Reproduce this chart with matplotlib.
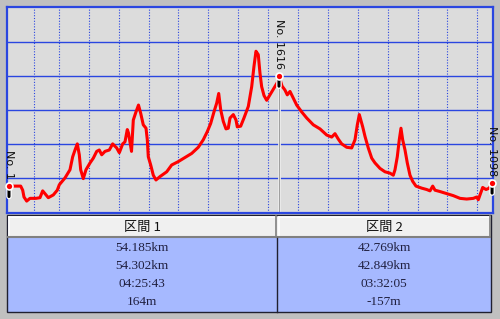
import numpy as np
import matplotlib.pyplot as plt
import matplotlib.patheffects as pe
from matplotlib.patches import Rectangle

# profile: distance (km) / elevation (m)
dist_km = [0.0, 0.86, 2.35, 2.75, 3.01, 3.55, 4.21, 5.42, 6.22, 6.76, 7.57, 7.89, 8.89, 9.69,
           10.10, 11.24, 12.24, 12.78, 13.25, 13.71, 14.11, 14.39, 14.91, 15.45, 16.26, 16.92,
           17.60, 18.12, 18.61, 19.27, 20.13, 20.81, 21.62, 22.14, 22.82, 23.28, 23.74, 23.98,
           24.28, 24.59, 24.95, 25.49, 25.99, 26.43, 26.95, 27.50, 27.76, 27.96, 28.44, 28.96,
           29.50, 30.31, 31.65, 32.65, 33.98, 35.32, 36.67, 37.99, 38.99, 39.80, 40.48, 41.14,
           41.69, 42.09, 42.49, 43.01, 43.55, 44.01, 44.36, 45.02, 45.56, 45.82, 46.50, 47.16,
           48.03, 48.71, 49.17, 49.57, 50.03, 50.37, 50.71, 51.18, 51.72, 52.38, 53.05, 53.85,
           54.185, 54.79, 55.39, 55.85, 56.40, 56.94, 57.74, 58.74, 59.75, 61.07, 62.42, 63.76,
           64.77, 65.43, 66.09, 66.77, 67.78, 68.78, 69.44, 69.91, 70.31, 70.99, 71.45, 72.11,
           72.80, 73.46, 74.46, 75.46, 76.47, 77.13, 77.47, 77.93, 78.33, 78.67, 79.01, 79.48,
           79.94, 80.48, 81.02, 81.68, 82.83, 83.83, 84.50, 85.04, 85.50, 86.50, 87.85, 89.17,
           90.52, 91.86, 93.19, 93.87, 94.19, 94.53, 95.07, 95.74, 96.40, 96.954]
elev_m = [38, 38, 38, 32, 22, 16, 20, 20, 21, 31, 24, 21, 25, 32,
          40, 50, 62, 81, 91, 100, 84, 62, 49, 62, 72, 79,
          89, 91, 84, 89, 91, 100, 94, 87, 100, 103, 121, 116,
          103, 89, 135, 147, 157, 145, 128, 123, 106, 81, 69, 54,
          47, 52, 59, 69, 74, 80, 86, 95, 106, 118, 130, 147,
          160, 174, 150, 133, 122, 123, 138, 143, 135, 125, 126, 138,
          155, 184, 214, 236, 231, 204, 184, 171, 164, 172, 180, 190,
          200, 185, 179, 172, 177, 169, 157, 147, 138, 128, 122, 113,
          110, 115, 107, 100, 95, 94, 106, 128, 143, 125, 111, 94,
          79, 72, 64, 59, 57, 54, 62, 81, 106, 123, 106, 91,
          72, 54, 45, 38, 35, 33, 31, 38, 32, 30, 27, 24,
          20, 19, 20, 22, 18, 25, 36, 33, 35, 43]

pin_labels = ['No. 1', 'No. 1616', 'No. 1098']
pin_km = [0.0, 54.185, 96.954]
pin_m = [38, 200, 43]

grid_km = [5, 10, 16, 22, 28, 34, 40, 46, 52, 58, 64, 70, 76, 82, 88, 94]
grid_m = [50, 100, 150, 200, 250]

sections = ['区間 1', '区間 2']
horiz_dist = ['54.185km', '42.769km']
slope_dist = ['54.302km', '42.849km']
times = ['04:25:43', '03:32:05']
elev_diff = ['164m', '-157m']

W, H = 500, 319
fig = plt.figure(figsize=(W / 100, H / 100), dpi=100, facecolor='#c0c0c0')

# background / table layer in pixel coords
bg = fig.add_axes([0, 0, 1, 1])
bg.set_xlim(0, W)
bg.set_ylim(H, 0)
bg.axis('off')

# white bevel top-left of plot
bg.add_patch(Rectangle((5.5, 5.5), 486, 206, facecolor='white', edgecolor='none'))

# table
tx0, tx1, tmid = 7, 491, 277
ty0, thead, ty1 = 215, 238, 312
bg.add_patch(Rectangle((tx0, thead), tx1 - tx0, ty1 - thead, facecolor='#a6b9ff', edgecolor='none'))
for a, b in [(tx0, tmid), (tmid, tx1)]:
    bg.add_patch(Rectangle((a, ty0), b - a, thead - ty0, facecolor='#f0f0f0', edgecolor='none'))
    bg.plot([a + 1.5, b - 1.5], [ty0 + 1.5, ty0 + 1.5], color='white', lw=1.2)
    bg.plot([a + 1.5, a + 1.5], [ty0 + 1.5, thead - 1], color='white', lw=1.2)
    bg.plot([a + 1, b - 1], [thead - 1, thead - 1], color='#808080', lw=1.5)
    bg.plot([b - 1.2, b - 1.2], [ty0 + 1, thead - 1], color='#808080', lw=1.2)
bg.plot([tmid, tmid], [thead, ty1], color='#202030', lw=1)
bg.add_patch(Rectangle((tx0, ty0), tx1 - tx0, ty1 - ty0, facecolor='none', edgecolor='#202030', lw=1))

cols = [(tx0 + tmid) / 2, (tmid + tx1) / 2]
rows_y = [248, 266, 284, 302]
for i, cx in enumerate(cols):
    bg.text(cx, (ty0 + thead) / 2 + 0.5, sections[i], ha='center', va='center', fontsize=9.5,
            family=['Noto Sans CJK JP', 'DejaVu Sans'], color='#101010')
    for ry, val in zip(rows_y, [horiz_dist[i], slope_dist[i], times[i], elev_diff[i]]):
        bg.text(cx, ry, val, ha='center', va='center', fontsize=9.5,
                family='Liberation Serif', color='#202040')

# plot
ax = fig.add_axes([7 / W, (H - 213) / H, 486 / W, 206 / H])
ax.set_facecolor('#dcdcdc')
ax.set_xlim(-0.40, 97.14)
ax.set_ylim(-1.5, 301)
ax.set_xticks([])
ax.set_yticks([])
for s in ax.spines.values():
    s.set_color('#2a46e0')
    s.set_linewidth(1.6)

for gm in grid_m:
    ax.axhline(gm, color='#2a46e0', lw=1.0, zorder=1)
for gk in grid_km:
    ax.axvline(gk, color='#2a46e0', lw=0.8, ls=(0, (1, 1.5)), zorder=1)

# section divider
ax.plot([pin_km[1], pin_km[1]], [-1.5, pin_m[1]], color='white', lw=2.0, zorder=2)
ax.plot([pin_km[1], pin_km[1]], [-1.5, pin_m[1]], color='#a0a0a0', lw=1.0, zorder=2)

ax.plot(dist_km, elev_m, color='#ff0000', lw=2.2, zorder=3)

for lab, x, y in zip(pin_labels, pin_km, pin_m):
    ax.annotate('', xy=(x, y), xytext=(0, -7.5), textcoords='offset points',
                arrowprops=dict(arrowstyle='-', color='black', lw=2.2, shrinkA=0, shrinkB=0,
                                path_effects=[pe.withStroke(linewidth=4, foreground='white')]),
                zorder=6, annotation_clip=False)
    ax.plot([x], [y], marker='o', ms=5, mfc='#ff0000', mec='white', mew=1.2, ls='none',
            zorder=7, clip_on=False)
    ax.annotate(lab, xy=(x, y), xytext=(0, 5), textcoords='offset points', rotation=-90,
                ha='center', va='bottom', fontsize=8, color='#101010', zorder=8,
                annotation_clip=False)

fig.savefig('out.png', dpi=100, facecolor=fig.get_facecolor())
